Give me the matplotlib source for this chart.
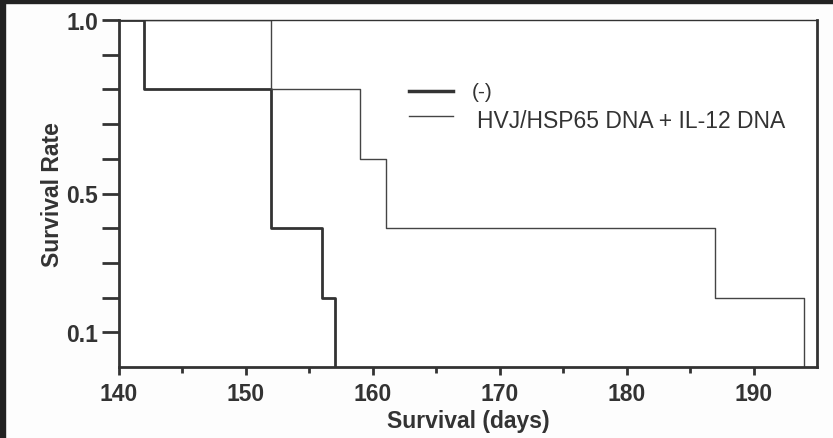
import numpy as np
import matplotlib
matplotlib.use("Agg")
import matplotlib.pyplot as plt
from matplotlib.lines import Line2D
from matplotlib.patches import Rectangle

plt.rcParams["font.family"] = ["Liberation Sans", "DejaVu Sans"]

# datos de supervivencia (escalones)
dias_control = [140, 142, 152, 156, 157]
surv_control = [1.0, 0.8, 0.4, 0.2, 0.0]
dias_trat = [140, 152, 159, 161, 187, 194]
surv_trat = [1.0, 0.8, 0.6, 0.4, 0.2, 0.0]

etiquetas = ["(-)", "HVJ/HSP65 DNA + IL-12 DNA"]
x_ticks = [140, 150, 160, 170, 180, 190]
y_ticks = [0.1, 0.2, 0.3, 0.4, 0.5, 0.6, 0.7, 0.8, 0.9, 1.0]
y_labels = ["0.1", "", "", "", "0.5", "", "", "", "", "1.0"]

color = "#333333"
W, H = 833, 439

fig = plt.figure(figsize=(8.33, 4.39), dpi=100)
fig.patch.set_facecolor("#fdfdfd")
ax = fig.add_axes([119/W, 1-368/H, (817-119)/W, (368-21)/H])

ax.step(dias_control, surv_control, where="post", color=color, lw=2.0)
ax.step(dias_trat, surv_trat, where="post", color="#444444", lw=1.0)

ax.set_xlim(140, 195)
ax.set_ylim(0, 1.0)
ax.set_xticks(x_ticks)
ax.set_xticks(np.arange(145, 195, 10), minor=True)
ax.set_yticks(y_ticks)
ax.set_yticklabels(y_labels)

ax.tick_params(axis="y", direction="out", length=12, width=2, colors=color,
               labelsize=16.5, pad=3)
ax.tick_params(axis="x", which="major", direction="out", length=6, width=2,
               colors=color, labelsize=16.5, pad=5)
ax.tick_params(axis="x", which="minor", direction="out", length=4, width=2,
               colors=color)
for lbl in ax.get_xticklabels() + ax.get_yticklabels():
    lbl.set_fontweight("bold")

for lado in ["left", "bottom", "right"]:
    ax.spines[lado].set_linewidth(2)
    ax.spines[lado].set_color(color)
ax.spines["top"].set_linewidth(1)
ax.spines["top"].set_color(color)

ax.set_xlabel("Survival (days)", fontsize=16.5, fontweight="bold", color=color, labelpad=3)
ax.set_ylabel("Survival Rate", fontsize=16.5, fontweight="bold", color=color, labelpad=2)

# leyenda a mano
fig.add_artist(Line2D([409/W, 453/W], [1-92/H, 1-92/H], color=color, lw=2.5))
fig.add_artist(Line2D([409/W, 453/W], [1-117/H, 1-117/H], color="#444444", lw=1.0))
fig.text(472/W, 1-93/H, etiquetas[0], fontsize=15, color=color, va="center")
fig.text(477/W, 1-122/H, etiquetas[1], fontsize=16.5, color=color, va="center")

# borde oscuro de la imagen escaneada
fig.patches.append(Rectangle((0, 0), 5/W, 1, transform=fig.transFigure,
                             color="#222222", zorder=10))
fig.patches.append(Rectangle((0, 1-4/H), 1, 4/H, transform=fig.transFigure,
                             color="#222222", zorder=10))

plt.savefig("out.png", dpi=100, facecolor=fig.get_facecolor())
